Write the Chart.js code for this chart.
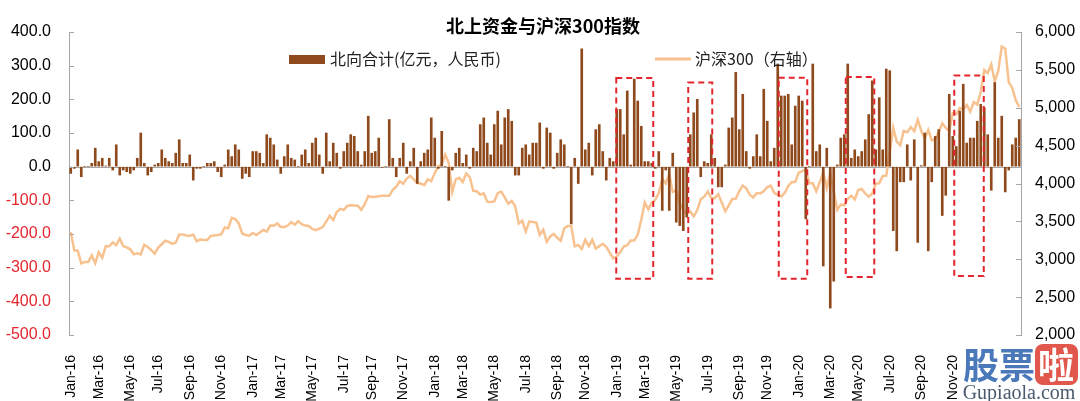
<!DOCTYPE html>
<html lang="zh-CN">
<head>
<meta charset="utf-8">
<title>北上资金与沪深300指数</title>
<script src="https://cdn.jsdelivr.net/npm/chart.js@4.4.1/dist/chart.umd.min.js"></script>
<style>
  html, body { margin: 0; padding: 0; background: #ffffff; }
  canvas { display: block; }
</style>
</head>
<body>
<canvas id="flowChart" width="1080" height="401"></canvas>
<script>
// weekly series, first week ends Fri 2016-01-08
const firstWeek = "2016-01-08";

// 北向合计, 亿元 (weekly net buying)
const northbound2016 = [-20, -5, 50, -30, 0, 0, 10, 55, 15, 25, 2, 25, -10, 65, -25, -10, -15, -20, -10, 25,
  100, 10, -25, -15, 5, 10, 50, 25, 15, 10, 40, 80, 10, 10, 35, -40, -5, -5, 0, 10,
  10, 15, -15, -30, 5, 50, 30, 65, 50, -35, -20, -30];
const northbound2017 = [45, 45, 40, 10, 95, 85, 65, 20, -20, 30, 65, 25, 20, 0, 35, 50, 10, 70, 85, 35,
  -20, 100, 15, 70, 40, -5, 45, 70, 95, 90, 45, 5, 45, 150, 40, 45, 85, -2, 0, 140,
  25, -30, 25, 70, -20, 15, 55, -50, 15, 40, 50, 145];
const northbound2018 = [85, -5, 105, 0, -100, -10, 40, 55, 10, 35, -5, 55, 45, 125, 145, 70, 35, 125, 165, 65,
  145, 170, 135, -25, -25, 55, 65, 35, 70, 70, 130, -5, 115, 100, -5, 40, 80, 65, 0, -170,
  25, -50, 350, 50, 70, -25, 110, 125, 45, -40, 25, 15];
const northbound2019 = [170, 170, 95, 225, 5, 260, 195, 120, 15, 15, 10, -5, 45, -130, -10, -130, 40, -165, -175, -190,
  -150, 95, 160, 200, -30, 15, 10, 95, 25, -60, -60, 5, 115, 145, 280, 110, 215, 45, -5, 30,
  95, 30, 230, 135, 15, 55, 305, 210, 210, 215, 65, 180];
const northbound2020 = [210, 195, -155, 0, 305, 45, 65, -295, 55, -420, -340, 5, 85, 95, 305, 25, 50, 30, 45, 80,
  155, 255, 50, 205, 50, 290, 285, -190, -250, -45, -45, 65, -40, 80, -225, 3, 100, -250, -45, 90,
  110, -145, -85, 215, 90, 60, 165, 245, 70, 85, 85, 135];
const northbound2021 = [185, 175, 95, -70, 250, 85, 150, -75, -10, 65, 85, 140];

// 沪深300 weekly close
const csi2016 = [3361, 3118, 3113, 2946, 2963, 2963, 3051, 2948, 3094, 3019, 3172, 3171, 3222, 3186, 3272, 3174, 3157, 3131, 3066, 3078,
  3063, 3189, 3163, 3121, 3077, 3154, 3198, 3244, 3229, 3204, 3220, 3327, 3327, 3314, 3311, 3325, 3237, 3262, 3253, 3253,
  3309, 3315, 3321, 3329, 3420, 3410, 3546, 3529, 3474, 3340, 3320, 3310];
const csi2017 = [3347, 3319, 3354, 3387, 3365, 3444, 3441, 3474, 3426, 3427, 3445, 3489, 3456, 3503, 3464, 3445, 3439, 3400, 3385, 3403,
  3424, 3497, 3573, 3518, 3623, 3666, 3651, 3705, 3713, 3710, 3707, 3652, 3727, 3834, 3822, 3825, 3831, 3837, 3837, 3837,
  3918, 3958, 4029, 3997, 4066, 4101, 4053, 4006, 3999, 3979, 4054, 4031];
const csi2018 = [4138, 4225, 4258, 4382, 4271, 3890, 4053, 4074, 4019, 4131, 4085, 3904, 3898, 3854, 3871, 3760, 3756, 3763, 3872, 3893,
  3817, 3734, 3770, 3697, 3472, 3510, 3366, 3497, 3493, 3484, 3323, 3390, 3230, 3302, 3334, 3283, 3244, 3410, 3438, 3438,
  3170, 3189, 3136, 3257, 3173, 3257, 3142, 3173, 3204, 3165, 3088, 3011];
const csi2019 = [3035, 3094, 3168, 3185, 3247, 3247, 3326, 3521, 3749, 3658, 3745, 3784, 3872, 4062, 4001, 4120, 3889, 3913, 3734, 3649,
  3597, 3630, 3566, 3649, 3793, 3826, 3893, 3808, 3807, 3858, 3749, 3633, 3710, 3795, 3799, 3900, 3972, 3936, 3852, 3814,
  3874, 3869, 3896, 3953, 3973, 3877, 3849, 3829, 3875, 3968, 4017, 4022];
const csi2020 = [4144, 4164, 4186, 4004, 4004, 3899, 4016, 4149, 3940, 4139, 3895, 3653, 3722, 3713, 3796, 3839, 3790, 3913, 3928, 3868,
  3824, 3868, 3999, 4003, 4099, 4104, 4416, 4736, 4554, 4506, 4695, 4678, 4745, 4690, 4842, 4695, 4593, 4707, 4570, 4587,
  4681, 4792, 4734, 4695, 4929, 4914, 4996, 4980, 5036, 4948, 5075, 5042];
const csi2021 = [5211, 5496, 5458, 5570, 5351, 5483, 5808, 5779, 5336, 5262, 5100, 5010];

const northboundFlow = [].concat(northbound2016, northbound2017, northbound2018, northbound2019, northbound2020, northbound2021);
const csi300 = [].concat(csi2016, csi2017, csi2018, csi2019, csi2020, csi2021);

const monthNames = ["Jan", "Feb", "Mar", "Apr", "May", "Jun", "Jul", "Aug", "Sep", "Oct", "Nov", "Dec"];
const lastAxisLabel = "2020-11-30";

// dashed highlight boxes: [from, to, top, bottom] in dates / left-axis units
const highlightBoxes = [
  ["2019-01-03", "2019-03-18", 263, -333],
  ["2019-05-27", "2019-07-14", 250, -333],
  ["2019-11-24", "2020-01-20", 264, -333],
  ["2020-04-06", "2020-06-02", 266, -328],
  ["2020-11-09", "2021-01-07", 271, -325]
];

const barColor = "#8e4a1c";
const lineColor = "#f7c28f";
const red = "#e3262d";
const axisGray = "#a6a6a6";
const cjkFont = '"Noto Sans CJK SC", "Liberation Sans", sans-serif';

const DAY = 24 * 3600 * 1000;
function toUTC(s) {
  const p = s.split("-").map(Number);
  return Date.UTC(p[0], p[1] - 1, p[2]);
}
const startMs = toUTC(firstWeek);
const weekDates = northboundFlow.map((_, i) => new Date(startMs + i * 7 * DAY));
const weekLabels = weekDates.map(d => d.toISOString().slice(0, 10));

// month label on the first week of Jan/Mar/May/...
const tickText = weekDates.map((d, i) => {
  const m = d.getUTCMonth();
  const isFirst = i === 0 || weekDates[i - 1].getUTCMonth() !== m;
  if (!isFirst || m % 2 !== 0 || weekLabels[i] > lastAxisLabel) return "";
  return monthNames[m] + "-" + String(d.getUTCFullYear()).slice(2);
});

function weekPos(s) {
  return (toUTC(s) - startMs) / (7 * DAY);
}

const overlay = {
  id: "overlay",
  beforeDatasetsDraw(chart) {
    const { ctx, chartArea, scales } = chart;
    const y0 = Math.round(scales.y.getPixelForValue(0)) + 0.5;
    ctx.save();
    ctx.strokeStyle = axisGray;
    ctx.lineWidth = 1;
    ctx.beginPath();
    ctx.moveTo(chartArea.left, y0);
    ctx.lineTo(chartArea.right, y0);
    ctx.stroke();
    ctx.restore();
  },
  afterDatasetsDraw(chart) {
    const { ctx, scales } = chart;
    ctx.save();
    ctx.strokeStyle = red;
    ctx.lineWidth = 2;
    ctx.setLineDash([6, 4]);
    highlightBoxes.forEach(b => {
      const x1 = scales.x.getPixelForValue(weekPos(b[0]));
      const x2 = scales.x.getPixelForValue(weekPos(b[1]));
      const y1 = scales.y.getPixelForValue(b[2]);
      const y2 = scales.y.getPixelForValue(b[3]);
      ctx.strokeRect(x1, y1, x2 - x1, y2 - y1);
    });
    ctx.restore();
  },
  afterDraw(chart) {
    const { ctx, chartArea, scales } = chart;
    ctx.save();
    // small inward tick marks on both value axes
    ctx.strokeStyle = axisGray;
    ctx.lineWidth = 1;
    ctx.beginPath();
    scales.y.ticks.forEach(t => {
      const py = Math.round(scales.y.getPixelForValue(t.value)) + 0.5;
      ctx.moveTo(chartArea.left, py);
      ctx.lineTo(chartArea.left + 5, py);
    });
    scales.y1.ticks.forEach(t => {
      const py = Math.round(scales.y1.getPixelForValue(t.value)) + 0.5;
      ctx.moveTo(chartArea.right, py);
      ctx.lineTo(chartArea.right - 5, py);
    });
    ctx.stroke();

    // title
    ctx.fillStyle = "#000";
    ctx.textAlign = "center";
    ctx.textBaseline = "middle";
    ctx.font = "bold 18px " + cjkFont;
    ctx.fillText("北上资金与沪深300指数", 543, 26);

    // legend
    ctx.textAlign = "left";
    ctx.font = "16px " + cjkFont;
    ctx.fillStyle = barColor;
    ctx.fillRect(289, 55, 36, 9);
    ctx.fillStyle = "#222";
    ctx.fillText(chart.data.datasets[0].label, 330, 59);
    ctx.strokeStyle = lineColor;
    ctx.lineWidth = 3;
    ctx.beginPath();
    ctx.moveTo(655, 59);
    ctx.lineTo(691, 59);
    ctx.stroke();
    ctx.fillText(chart.data.datasets[1].label, 695, 59);

    // site watermark, bottom right
    ctx.fillStyle = "#ffffff";
    ctx.fillRect(961, 342, 119, 59);
    ctx.textAlign = "center";
    ctx.font = "bold 36px " + cjkFont;
    ctx.fillStyle = "#4a78b8";
    ctx.fillText("股", 981, 365);
    ctx.fillText("票", 1017, 365);
    ctx.fillStyle = "#e2574c";
    ctx.beginPath();
    ctx.roundRect(1035, 344, 43, 41, 8);
    ctx.fill();
    ctx.fillStyle = "#ffffff";
    ctx.fillText("啦", 1056, 365);
    ctx.font = "20px \"Liberation Serif\", serif";
    ctx.fillStyle = "#4b5a6e";
    ctx.fillText("Gupiaola.com", 1019, 394);
    ctx.restore();
  }
};

Chart.defaults.font.family = '"Liberation Sans", Arial, sans-serif';
Chart.defaults.color = "#000";

new Chart(document.getElementById("flowChart"), {
  data: {
    labels: weekLabels,
    datasets: [
      {
        type: "bar",
        label: "北向合计(亿元，人民币)",
        data: northboundFlow,
        backgroundColor: barColor,
        barThickness: 2,
        yAxisID: "y",
        order: 1
      },
      {
        type: "line",
        label: "沪深300（右轴）",
        data: csi300,
        borderColor: lineColor,
        borderWidth: 2.5,
        pointRadius: 0,
        tension: 0,
        yAxisID: "y1",
        order: 2
      }
    ]
  },
  options: {
    responsive: false,
    animation: false,
    events: [],
    layout: { padding: { top: 32, left: 0, right: 0, bottom: 0 } },
    plugins: {
      legend: { display: false },
      title: { display: false },
      tooltip: { enabled: false }
    },
    scales: {
      x: {
        type: "category",
        offset: true,
        grid: { display: false, drawTicks: false },
        border: { display: false },
        ticks: {
          autoSkip: false,
          minRotation: 90,
          maxRotation: 90,
          padding: 20,
          font: { size: 14 },
          callback: (value, index) => tickText[index]
        },
        afterFit: s => { s.height = 66; }
      },
      y: {
        position: "left",
        min: -500,
        max: 400,
        grid: { drawOnChartArea: false, drawTicks: false },
        border: { display: true, color: axisGray },
        ticks: {
          stepSize: 100,
          padding: 18,
          font: { size: 16 },
          color: c => (c.tick && c.tick.value < 0 ? red : "#000"),
          callback: v => v.toFixed(1)
        },
        afterFit: s => { s.width = 69; }
      },
      y1: {
        position: "right",
        min: 2000,
        max: 6000,
        grid: { drawOnChartArea: false, drawTicks: false },
        border: { display: true, color: axisGray },
        ticks: {
          stepSize: 500,
          padding: 14,
          font: { size: 16 },
          callback: v => v.toLocaleString("en-US")
        },
        afterFit: s => { s.width = 59; }
      }
    }
  },
  plugins: [overlay]
});
</script>
</body>
</html>
